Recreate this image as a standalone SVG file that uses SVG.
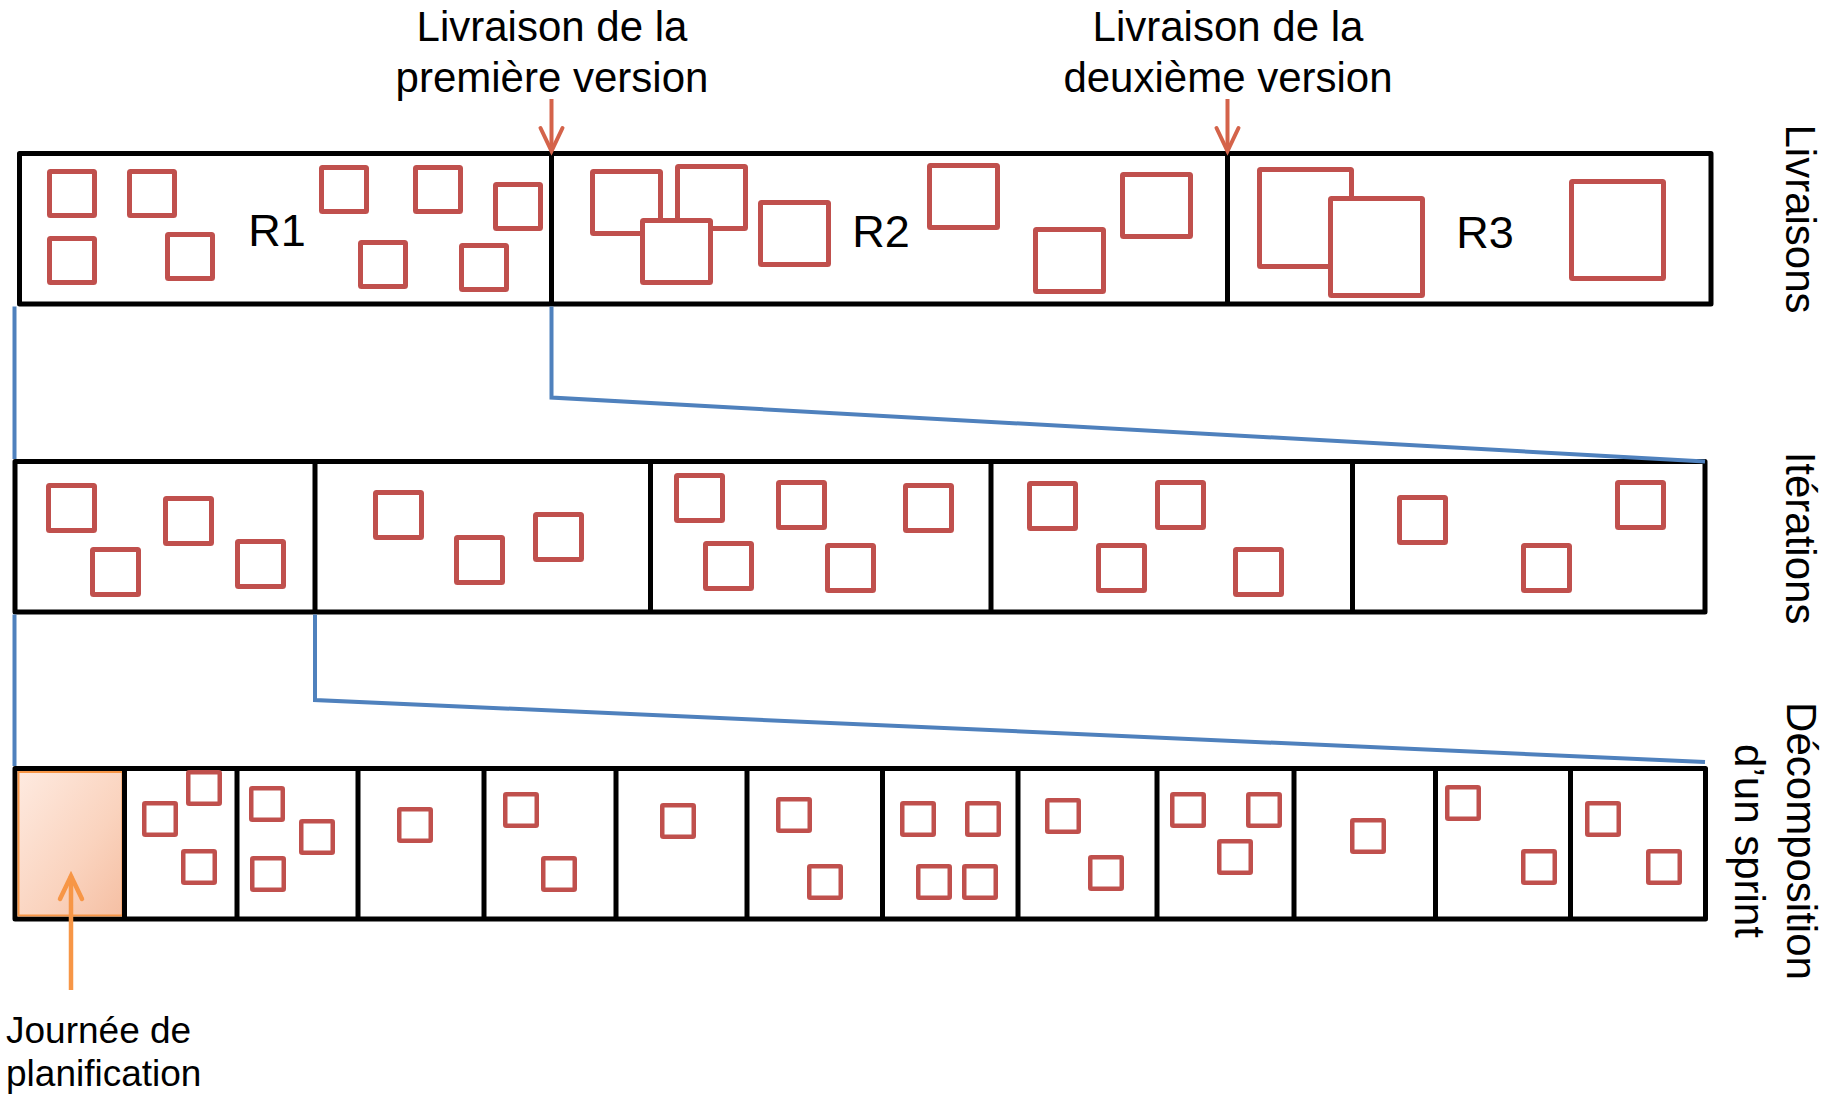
<svg xmlns="http://www.w3.org/2000/svg" width="1835" height="1094" viewBox="0 0 1835 1094">
<style>
text{font-family:"Liberation Sans",Arial,sans-serif;fill:#000}
.lbl{font-size:42px}
.rl{font-size:45px}
.box{fill:none;stroke:#000;stroke-width:5;stroke-linejoin:round}
.div{stroke:#000;stroke-width:5}
.sq{fill:#fff;stroke:#C0504D;stroke-width:5;stroke-linejoin:round}
.sm{stroke-width:4.5}
.blue{fill:none;stroke:#4F81BD;stroke-width:4}
.red{stroke:#D4634A;stroke-width:4;fill:none}
.org{stroke:#F79646;stroke-width:4.5;fill:none}
</style>
<defs>
<marker id="redHead" markerUnits="userSpaceOnUse" markerWidth="40" markerHeight="40" viewBox="-30 -20 40 40" refX="0" refY="0" orient="auto" overflow="visible">
<path d="M-23,-11 L0,0 L-23,11" fill="none" stroke="#D4634A" stroke-width="4" stroke-linecap="round"/>
</marker>
<marker id="orgHead" markerUnits="userSpaceOnUse" markerWidth="40" markerHeight="40" viewBox="-30 -20 40 40" refX="0" refY="0" orient="auto" overflow="visible">
<path d="M-23,-11 L0,0 L-23,11" fill="none" stroke="#F79646" stroke-width="4.5" stroke-linecap="round"/>
</marker>
<linearGradient id="peach" x1="0" y1="0" x2="1" y2="1">
<stop offset="0" stop-color="#FEEAE0"/>
<stop offset="0.6" stop-color="#FAD3BE"/>
<stop offset="1" stop-color="#F5BFA3"/>
</linearGradient>
</defs>

<g id="livraisons">
<rect class="box" x="19.5" y="153.5" width="1691.5" height="150.5" fill="#fff"/>
<line class="div" x1="551.5" y1="153.5" x2="551.5" y2="304"/>
<line class="div" x1="1227.5" y1="153.5" x2="1227.5" y2="304"/>
<g id="r1">
<rect class="sq" x="49.5" y="171.5" width="45" height="44" rx="1"/>
<rect class="sq" x="129.5" y="171.5" width="45" height="44" rx="1"/>
<rect class="sq" x="321.5" y="167.5" width="45" height="44" rx="1"/>
<rect class="sq" x="415.5" y="167.5" width="45" height="44" rx="1"/>
<rect class="sq" x="495.5" y="184.5" width="45" height="44" rx="1"/>
<rect class="sq" x="49.5" y="238.5" width="45" height="44" rx="1"/>
<rect class="sq" x="167.5" y="234.5" width="45" height="44" rx="1"/>
<rect class="sq" x="360.5" y="242.5" width="45" height="44" rx="1"/>
<rect class="sq" x="461.5" y="245.5" width="45" height="44" rx="1"/>
<text class="rl" x="277" y="246" text-anchor="middle">R1</text>
</g>
<g id="r2">
<rect class="sq" x="592.5" y="171.5" width="68" height="62" rx="1"/>
<rect class="sq" x="677.5" y="166.5" width="68" height="62" rx="1"/>
<rect class="sq" x="642.5" y="220.5" width="68" height="62" rx="1"/>
<rect class="sq" x="760.5" y="202.5" width="68" height="62" rx="1"/>
<rect class="sq" x="929.5" y="165.5" width="68" height="62" rx="1"/>
<rect class="sq" x="1035.5" y="229.5" width="68" height="62" rx="1"/>
<rect class="sq" x="1122.5" y="174.5" width="68" height="62" rx="1"/>
<text class="rl" x="881" y="247" text-anchor="middle">R2</text>
</g>
<g id="r3">
<rect class="sq" x="1259.5" y="169.5" width="92" height="97" rx="1"/>
<rect class="sq" x="1330.5" y="198.5" width="92" height="97" rx="1"/>
<rect class="sq" x="1571.5" y="181.5" width="92" height="97" rx="1"/>
<text class="rl" x="1485" y="248" text-anchor="middle">R3</text>
</g>
</g>

<g id="iterations">
<rect class="box" x="15" y="461.5" width="1690" height="150.5" fill="#fff"/>
<line class="div" x1="315" y1="461.5" x2="315" y2="612"/>
<line class="div" x1="650.5" y1="461.5" x2="650.5" y2="612"/>
<line class="div" x1="991" y1="461.5" x2="991" y2="612"/>
<line class="div" x1="1352.5" y1="461.5" x2="1352.5" y2="612"/>
<rect class="sq" x="48.5" y="485.5" width="46" height="45" rx="1"/>
<rect class="sq" x="165.5" y="498.5" width="46" height="45" rx="1"/>
<rect class="sq" x="92.5" y="549.5" width="46" height="45" rx="1"/>
<rect class="sq" x="237.5" y="541.5" width="46" height="45" rx="1"/>
<rect class="sq" x="375.5" y="492.5" width="46" height="45" rx="1"/>
<rect class="sq" x="535.5" y="514.5" width="46" height="45" rx="1"/>
<rect class="sq" x="456.5" y="537.5" width="46" height="45" rx="1"/>
<rect class="sq" x="676.5" y="475.5" width="46" height="45" rx="1"/>
<rect class="sq" x="778.5" y="482.5" width="46" height="45" rx="1"/>
<rect class="sq" x="905.5" y="485.5" width="46" height="45" rx="1"/>
<rect class="sq" x="705.5" y="543.5" width="46" height="45" rx="1"/>
<rect class="sq" x="827.5" y="545.5" width="46" height="45" rx="1"/>
<rect class="sq" x="1029.5" y="483.5" width="46" height="45" rx="1"/>
<rect class="sq" x="1157.5" y="482.5" width="46" height="45" rx="1"/>
<rect class="sq" x="1098.5" y="545.5" width="46" height="45" rx="1"/>
<rect class="sq" x="1235.5" y="549.5" width="46" height="45" rx="1"/>
<rect class="sq" x="1399.5" y="497.5" width="46" height="45" rx="1"/>
<rect class="sq" x="1617.5" y="482.5" width="46" height="45" rx="1"/>
<rect class="sq" x="1523.5" y="545.5" width="46" height="45" rx="1"/>
</g>

<g id="sprint">
<rect class="box" x="15" y="768.5" width="1690.5" height="150.5" fill="#fff"/>
<rect id="planning-day" x="18.5" y="772" width="104" height="143.5" fill="url(#peach)" stroke="#F79646" stroke-width="2"/>
<line class="div" x1="124.5" y1="768.5" x2="124.5" y2="919"/>
<line class="div" x1="237" y1="768.5" x2="237" y2="919"/>
<line class="div" x1="358" y1="768.5" x2="358" y2="919"/>
<line class="div" x1="484" y1="768.5" x2="484" y2="919"/>
<line class="div" x1="616" y1="768.5" x2="616" y2="919"/>
<line class="div" x1="747" y1="768.5" x2="747" y2="919"/>
<line class="div" x1="882.5" y1="768.5" x2="882.5" y2="919"/>
<line class="div" x1="1018" y1="768.5" x2="1018" y2="919"/>
<line class="div" x1="1157" y1="768.5" x2="1157" y2="919"/>
<line class="div" x1="1294" y1="768.5" x2="1294" y2="919"/>
<line class="div" x1="1435.5" y1="768.5" x2="1435.5" y2="919"/>
<line class="div" x1="1570.5" y1="768.5" x2="1570.5" y2="919"/>
<rect class="sq sm" x="188.25" y="772.25" width="31.5" height="31.5" rx="1"/>
<rect class="sq sm" x="144.25" y="803.25" width="31.5" height="31.5" rx="1"/>
<rect class="sq sm" x="183.25" y="851.25" width="31.5" height="31.5" rx="1"/>
<rect class="sq sm" x="251.25" y="788.25" width="31.5" height="31.5" rx="1"/>
<rect class="sq sm" x="301.25" y="821.25" width="31.5" height="31.5" rx="1"/>
<rect class="sq sm" x="252.25" y="858.25" width="31.5" height="31.5" rx="1"/>
<rect class="sq sm" x="399.25" y="809.25" width="31.5" height="31.5" rx="1"/>
<rect class="sq sm" x="505.25" y="794.25" width="31.5" height="31.5" rx="1"/>
<rect class="sq sm" x="543.25" y="858.25" width="31.5" height="31.5" rx="1"/>
<rect class="sq sm" x="662.25" y="805.25" width="31.5" height="31.5" rx="1"/>
<rect class="sq sm" x="778.25" y="799.25" width="31.5" height="31.5" rx="1"/>
<rect class="sq sm" x="809.25" y="866.25" width="31.5" height="31.5" rx="1"/>
<rect class="sq sm" x="902.25" y="803.25" width="31.5" height="31.5" rx="1"/>
<rect class="sq sm" x="967.25" y="803.25" width="31.5" height="31.5" rx="1"/>
<rect class="sq sm" x="918.25" y="866.25" width="31.5" height="31.5" rx="1"/>
<rect class="sq sm" x="964.25" y="866.25" width="31.5" height="31.5" rx="1"/>
<rect class="sq sm" x="1047.25" y="800.25" width="31.5" height="31.5" rx="1"/>
<rect class="sq sm" x="1090.25" y="857.25" width="31.5" height="31.5" rx="1"/>
<rect class="sq sm" x="1172.25" y="794.25" width="31.5" height="31.5" rx="1"/>
<rect class="sq sm" x="1248.25" y="794.25" width="31.5" height="31.5" rx="1"/>
<rect class="sq sm" x="1219.25" y="841.25" width="31.5" height="31.5" rx="1"/>
<rect class="sq sm" x="1352.25" y="820.25" width="31.5" height="31.5" rx="1"/>
<rect class="sq sm" x="1447.25" y="787.25" width="31.5" height="31.5" rx="1"/>
<rect class="sq sm" x="1523.25" y="851.25" width="31.5" height="31.5" rx="1"/>
<rect class="sq sm" x="1587.25" y="803.25" width="31.5" height="31.5" rx="1"/>
<rect class="sq sm" x="1648.25" y="851.25" width="31.5" height="31.5" rx="1"/>
</g>

<g id="label-release1">
<text class="lbl" x="552" y="41" text-anchor="middle">Livraison de la</text>
<text class="lbl" x="552" y="92" text-anchor="middle">première version</text>
</g>
<g id="label-release2">
<text class="lbl" x="1228" y="41" text-anchor="middle">Livraison de la</text>
<text class="lbl" x="1228" y="92" text-anchor="middle">deuxième version</text>
</g>
<g id="label-livraisons">
<text class="lbl" transform="translate(1786,219) rotate(90)" text-anchor="middle">Livraisons</text>
</g>
<g id="label-iterations">
<text class="lbl" transform="translate(1786,538) rotate(90)" text-anchor="middle">Itérations</text>
</g>
<g id="label-sprint">
<text class="lbl" transform="translate(1787,841) rotate(90)" text-anchor="middle">Décomposition</text>
<text class="lbl" transform="translate(1735,841) rotate(90)" text-anchor="middle">d’un sprint</text>
</g>
<g id="label-planning">
<text x="6" y="1043" style="font-size:37px">Journée de</text>
<text x="6" y="1086" style="font-size:37px">planification</text>
</g>

<g id="connectors">
<line class="blue" x1="14.5" y1="306.5" x2="14.5" y2="459"/>
<polyline class="blue" points="551.5,306.5 551.5,397.5 1705,461.5"/>
<line class="blue" x1="14.5" y1="614.5" x2="14.5" y2="766"/>
<polyline class="blue" points="315,614.5 315,700 1705,762"/>
<line class="red" x1="551.5" y1="99" x2="551.5" y2="151" marker-end="url(#redHead)"/>
<line class="red" x1="1227.5" y1="99" x2="1227.5" y2="151" marker-end="url(#redHead)"/>
<line class="org" x1="71" y1="990" x2="71" y2="876" marker-end="url(#orgHead)"/>
</g>
</svg>
